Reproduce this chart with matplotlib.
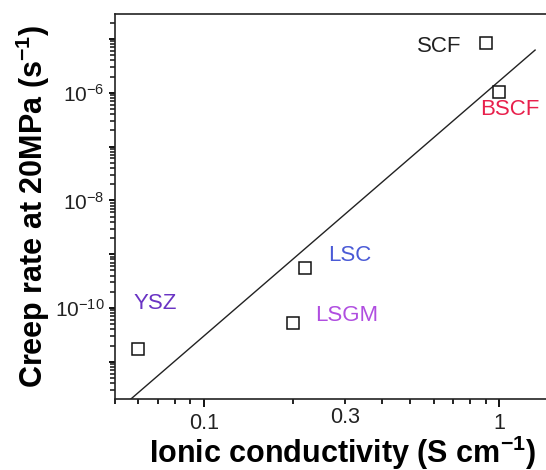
import numpy as np
import matplotlib
matplotlib.use('Agg')
import matplotlib.pyplot as plt
from matplotlib.ticker import FixedLocator, FuncFormatter, LogLocator, NullFormatter

plt.rcParams['font.family'] = ['Liberation Sans', 'DejaVu Sans']
plt.rcParams['mathtext.fontset'] = 'custom'
plt.rcParams['mathtext.rm'] = 'Liberation Sans'
plt.rcParams['mathtext.bf'] = 'Liberation Sans:bold'
plt.rcParams['mathtext.it'] = 'Liberation Sans:italic'

# 数据
materials = ['SCF', 'BSCF', 'LSC', 'LSGM', 'YSZ']
conductivity = [0.90, 1.00, 0.22, 0.20, 0.060]        # S cm-1
creep_rate = [8.4e-6, 1.03e-6, 5.5e-10, 5.3e-11, 1.73e-11]  # s-1
label_colors = ['#222222', '#e8204c', '#4a5ad6', '#b04ee0', '#6a34c4']

# 拟合直线端点
fit_x = [0.0566, 1.325]
fit_y = [2.04e-12, 6.2e-6]

# x 轴刻度
x_major = [0.1, 1]
x_minor = [0.05, 0.06, 0.07, 0.08, 0.09, 0.2, 0.3, 0.4, 0.5, 0.6, 0.7, 0.8, 0.9]

fig = plt.figure(figsize=(5.46, 4.70), dpi=100)
ax = fig.add_axes([115 / 546, 71 / 470, 436 / 546, 385 / 470])

ax.plot(fit_x, fit_y, color='#222222', linewidth=1.0)
ax.plot(conductivity, creep_rate, linestyle='none', marker='s', markersize=8.5,
        markerfacecolor='white', markeredgecolor='#111111', markeredgewidth=1.1)

# 文字标注偏移（points）
offsets = {
    'SCF': ((-17, -6.5), 'right'),
    'BSCF': ((8, -16.5), 'center'),
    'LSC': ((17, 5), 'left'),
    'LSGM': ((16, 1.5), 'left'),
    'YSZ': ((-3.6, 29), 'left'),
}
for name, x, y, c in zip(materials, conductivity, creep_rate, label_colors):
    off, ha = offsets[name]
    ax.annotate(name, (x, y), xytext=off, textcoords='offset points',
                ha=ha, va='baseline', color=c, fontsize=16)

ax.set_xscale('log')
ax.set_yscale('log')
ax.set_xlim(0.05, 1.5)
ax.set_ylim(2.04e-12, 2.9e-5)

ax.xaxis.set_major_locator(FixedLocator(x_major))
ax.xaxis.set_major_formatter(FuncFormatter(lambda v, p: f'{v:g}'))
ax.xaxis.set_minor_locator(FixedLocator(x_minor))
ax.xaxis.set_minor_formatter(FuncFormatter(lambda v, p: '0.3' if abs(v - 0.3) < 1e-6 else ''))


def y_fmt(v, p):
    e = int(round(np.log10(v)))
    if e % 2 == 0:
        return r'$\mathregular{10^{%d}}$' % e
    return ''


ax.yaxis.set_major_locator(LogLocator(base=10, numticks=20))
ax.yaxis.set_major_formatter(FuncFormatter(y_fmt))
ax.yaxis.set_minor_locator(LogLocator(base=10, subs=np.arange(2, 10), numticks=20))
ax.yaxis.set_minor_formatter(NullFormatter())

ax.tick_params(axis='x', which='major', length=5.5, width=1.4,
               pad=4.5, labelsize=15.5, color='#111111', labelcolor='#222222')
ax.tick_params(axis='x', which='minor', length=3.5, width=1.3,
               pad=2.3, labelsize=15.5, color='#111111', labelcolor='#222222')
ax.tick_params(axis='y', which='major', length=4.6, width=1.4,
               pad=3, labelsize=15, color='#111111', labelcolor='#222222')
ax.tick_params(axis='y', which='minor', length=3.4, width=1.1, color='#111111')

for s in ax.spines.values():
    s.set_linewidth(1.2)
    s.set_color('#222222')

ax.set_xlabel(r'Ionic conductivity (S cm$^{\mathbf{-1}}$)', fontsize=22,
              fontweight='bold')
ax.set_ylabel(r'Creep rate at 20MPa (s$^{\mathbf{-1}}$)', fontsize=22,
              fontweight='bold')
ax.xaxis.set_label_coords(0.521, -0.089)
ax.yaxis.set_label_coords(-0.1445, 0.5)

fig.savefig('out.png', dpi=100)
